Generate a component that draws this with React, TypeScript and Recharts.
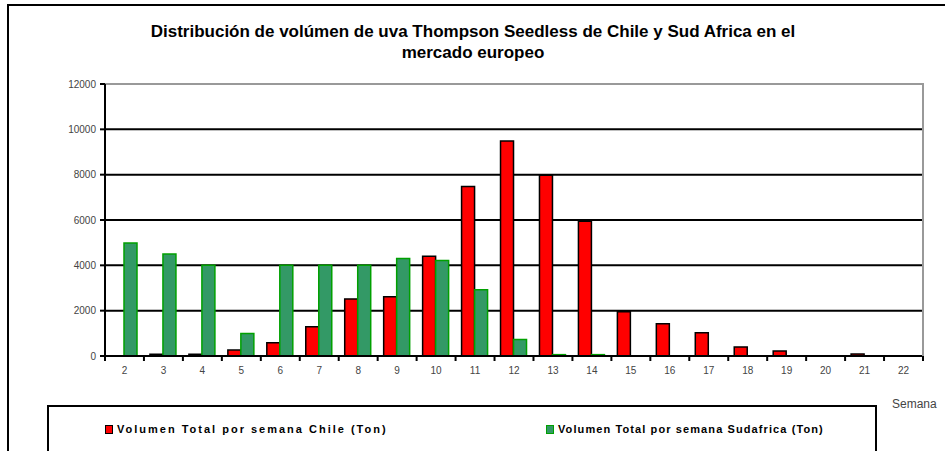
import React from 'react';
import { BarChart, Bar, XAxis, YAxis, CartesianGrid, ReferenceLine } from 'recharts';

const weeks = ['2','3','4','5','6','7','8','9','10','11','12','13','14','15','16','17','18','19','20','21','22'];
const chile = [0,75,75,260,580,1290,2520,2610,4400,7480,9490,7970,5950,1950,1420,1030,400,220,0,90,0];
const sudafrica = [4980,4500,4000,990,4000,4000,4000,4300,4210,2920,730,60,60,0,0,0,0,0,0,0,0];
const yTicks = [0,2000,4000,6000,8000,10000,12000];
const gridValues = [2000,4000,6000,8000,10000];
const seriesNames = ['Volumen Total por semana Chile (Ton)', 'Volumen Total por semana Sudafrica (Ton)'];
const titleLines = ['Distribución de volúmen de uva Thompson Seedless de Chile y Sud Africa en el', 'mercado europeo'];
const xAxisTitle = 'Semana';

const data = weeks.map((w, i) => ({ week: w, chile: chile[i], sudafrica: sudafrica[i] }));

const W = 945;
const H = 451;
const M = { top: 84, right: 22, bottom: 65, left: 45 };
const Y_W = 60;
const X_H = 30;
const PLOT_W = W - M.left - Y_W - M.right;
const BAND = PLOT_W / weeks.length;
const TICK_SIZE = 6;
const TICK_MARGIN = 5;

const RED = '#FF0000';
const GREEN_FILL = '#339966';
const GREEN_STROKE = '#00A000';
const FONT = '"Liberation Sans", Arial, sans-serif';

const XTick = (props: any) => {
  const { x, y, payload, index } = props;
  const axisY = y - TICK_SIZE - TICK_MARGIN;
  const last = index === weeks.length - 1;
  return (
    <g>
      <line x1={x - BAND / 2} x2={x - BAND / 2} y1={axisY} y2={axisY + 5} stroke="#000" strokeWidth={2} />
      {last && <line x1={x + BAND / 2} x2={x + BAND / 2} y1={axisY} y2={axisY + 5} stroke="#000" strokeWidth={2} />}
      <text x={x} y={y} dy="0.71em" textAnchor="middle" fontSize={10} fill="#444" fontFamily={FONT}>
        {payload.value}
      </text>
    </g>
  );
};

export default function App() {
  const plotTop = M.top;
  const plotBottom = H - M.bottom - X_H;
  const plotRight = W - M.right;
  return (
    <div style={{ position: 'absolute', left: 0, top: 0, width: W, height: H, overflow: 'hidden', background: '#fff', fontFamily: FONT }}>
      <div style={{ position: 'absolute', left: 7, top: 4, width: 1200, height: 1200, border: '2px solid #000', boxSizing: 'border-box' }} />
      <div style={{ position: 'absolute', left: 73, width: 800, top: 21, textAlign: 'center', fontSize: 17, fontWeight: 'bold', lineHeight: '21px', color: '#000' }}>
        <div>{titleLines[0]}</div>
        <div>{titleLines[1]}</div>
      </div>
      <div style={{ position: 'absolute', left: 0, top: 0 }}>
        <BarChart width={W} height={H} data={data} margin={M} barGap={0} barSize={13}>
          <CartesianGrid vertical={false} horizontalValues={gridValues} stroke="#000" strokeWidth={2} />
          <ReferenceLine y={12000} stroke="#999" strokeWidth={2} />
          <XAxis
            dataKey="week"
            height={X_H}
            interval={0}
            tickLine={false}
            tickSize={TICK_SIZE}
            tickMargin={TICK_MARGIN}
            axisLine={{ stroke: '#000', strokeWidth: 2 }}
            tick={<XTick />}
          />
          <YAxis
            width={Y_W}
            domain={[0, 12000]}
            ticks={yTicks}
            interval={0}
            tickSize={5}
            tickMargin={4}
            axisLine={{ stroke: '#000', strokeWidth: 2 }}
            tickLine={{ stroke: '#000', strokeWidth: 2 }}
            tick={{ fontSize: 10, fill: '#444', fontFamily: FONT }}
          />
          <Bar dataKey="chile" name={seriesNames[0]} fill={RED} stroke="#000" strokeWidth={1.5} isAnimationActive={false} />
          <Bar dataKey="sudafrica" name={seriesNames[1]} fill={GREEN_FILL} stroke={GREEN_STROKE} strokeWidth={1.5} isAnimationActive={false} />
        </BarChart>
      </div>
      <div style={{ position: 'absolute', left: plotRight - 1, top: plotTop - 1, width: 2, height: plotBottom - plotTop + 1, background: '#999' }} />
      <div style={{ position: 'absolute', left: 892, top: 397, fontSize: 12, color: '#444' }}>{xAxisTitle}</div>
      <div style={{ position: 'absolute', left: 47, top: 405, width: 830, height: 100, border: '2px solid #000', boxSizing: 'border-box' }} />
      <div style={{ position: 'absolute', left: 105, top: 423, display: 'flex', alignItems: 'center', fontSize: 11, fontWeight: 'bold', letterSpacing: '2px', color: '#000' }}>
        <span style={{ display: 'inline-block', width: 6, height: 7, background: RED, border: '1px solid #000', marginRight: 4 }} />
        <span>{seriesNames[0]}</span>
      </div>
      <div style={{ position: 'absolute', left: 546, top: 423, display: 'flex', alignItems: 'center', fontSize: 11, fontWeight: 'bold', letterSpacing: '1.1px', color: '#000' }}>
        <span style={{ display: 'inline-block', width: 6, height: 7, background: GREEN_FILL, border: '1px solid ' + GREEN_STROKE, marginRight: 4 }} />
        <span>{seriesNames[1]}</span>
      </div>
    </div>
  );
}
